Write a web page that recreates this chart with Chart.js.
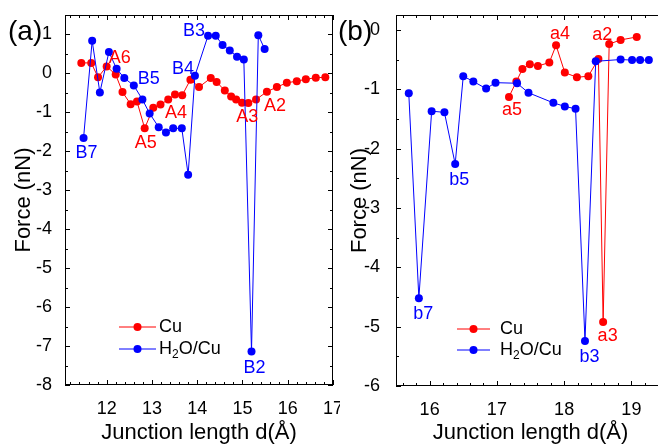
<!DOCTYPE html>
<html>
<head>
<meta charset="utf-8">
<script src="https://cdn.jsdelivr.net/npm/chart.js@4.4.1/dist/chart.umd.min.js"></script>
<style>
  html, body { margin: 0; padding: 0; background: #fff; }
  #wrap { position: relative; width: 658px; height: 446px; overflow: hidden; background: #fff; }
  canvas { position: absolute; top: 0; }
  #chartA { left: 0; }
  #chartB { left: 330px; }
</style>
</head>
<body>
<div id="wrap">
  <canvas id="chartA" width="340" height="446"></canvas>
  <canvas id="chartB" width="342" height="446"></canvas>
</div>
<script>
const FONT = "'Liberation Sans', Arial, sans-serif"
const RED = '#ff0000'
const BLUE = '#0000ff'

// panel (a): junction length (Å) vs force (nN)
const cuLenA = [11.44, 11.66, 11.81, 12.00, 12.20, 12.35, 12.53, 12.67, 12.84, 13.03, 13.19, 13.36, 13.51, 13.67, 13.85, 14.04,
    14.30, 14.43, 14.61, 14.75, 14.86, 14.99, 15.13, 15.30, 15.54, 15.76, 15.98, 16.20, 16.40, 16.62, 16.83]
const cuForceA = [0.27, 0.27, -0.10, 0.18, -0.03, -0.48, -0.79, -0.72, -1.41, -0.88, -0.80, -0.67, -0.54, -0.56, -0.16, -0.35,
    -0.12, -0.22, -0.44, -0.59, -0.67, -0.75, -0.76, -0.67, -0.47, -0.35, -0.24, -0.20, -0.15, -0.11, -0.10]
const h2oLenA = [11.49, 11.68, 11.85, 12.05, 12.22, 12.39, 12.60, 12.79, 12.95, 13.15, 13.31, 13.47, 13.66, 13.80, 13.95, 14.24,
    14.41, 14.56, 14.72, 14.88, 15.03, 15.20, 15.35, 15.49]
const h2oForceA = [-1.66, 0.84, -0.49, 0.55, 0.12, -0.12, -0.31, -0.67, -1.03, -1.38, -1.52, -1.41, -1.41, -2.60, -0.06, 0.97,
    0.97, 0.73, 0.59, 0.43, 0.36, -7.14, 0.98, 0.63]

// panel (b)
const cuLenB = [17.18, 17.29, 17.38, 17.49, 17.61, 17.78, 17.88, 18.01, 18.19, 18.36, 18.51, 18.58, 18.67, 18.84, 19.08]
const cuForceB = [-1.13, -0.87, -0.66, -0.58, -0.61, -0.55, -0.26, -0.72, -0.80, -0.78, -0.49, -4.92, -0.24, -0.17, -0.12]
const h2oLenB = [15.69, 15.84, 16.03, 16.22, 16.38, 16.50, 16.65, 16.84, 16.98, 17.30, 17.47, 17.84, 18.01, 18.17, 18.31, 18.47,
    18.84, 19.01, 19.13, 19.26]
const h2oForceB = [-1.07, -4.52, -1.37, -1.39, -2.26, -0.78, -0.87, -0.99, -0.89, -0.90, -1.06, -1.23, -1.29, -1.33, -5.24, -0.53,
    -0.50, -0.51, -0.51, -0.51]

// tick labels
const xTicksA = [12, 13, 14, 15, 16, 17]
const yTicksA = [-8, -7, -6, -5, -4, -3, -2, -1, 0, 1]
const xTicksB = [16, 17, 18, 19]
const yTicksB = [-6, -5, -4, -3, -2, -1, 0]

const seriesNames = ['Cu', 'H₂O/Cu']

// point tags: set 0 = Cu, set 1 = H2O/Cu, idx = point index
const tagsA = [
    { text: 'B7', set: 1, idx: 0, dx: 3, dy: 15 },
    { text: 'A6', set: 0, idx: 3, dx: 13, dy: -8 },
    { text: 'B5', set: 1, idx: 6, dx: 15, dy: -6 },
    { text: 'A5', set: 0, idx: 8, dx: 1, dy: 14.5 },
    { text: 'A4', set: 0, idx: 12, dx: 1, dy: 19 },
    { text: 'B4', set: 1, idx: 14, dx: -12, dy: -7 },
    { text: 'B3', set: 1, idx: 15, dx: -14, dy: -4.5 },
    { text: 'A3', set: 0, idx: 22, dx: -1, dy: 14.5 },
    { text: 'A2', set: 0, idx: 24, dx: 8, dy: 14 },
    { text: 'B2', set: 1, idx: 21, dx: 3, dy: 17 }
]
const tagsB = [
    { text: 'a5', set: 0, idx: 0, dx: 3, dy: 13 },
    { text: 'a4', set: 0, idx: 6, dx: 4, dy: -11 },
    { text: 'a2', set: 0, idx: 12, dx: -7, dy: -9 },
    { text: 'a3', set: 0, idx: 11, dx: 4.5, dy: 14.3 },
    { text: 'b5', set: 1, idx: 4, dx: 4, dy: 15.7 },
    { text: 'b7', set: 1, idx: 1, dx: 4.5, dy: 16 },
    { text: 'b3', set: 1, idx: 14, dx: 4.5, dy: 15.7 }
]


function line(ctx, x1, y1, x2, y2) {
    ctx.beginPath()
    ctx.moveTo(x1, y1)
    ctx.lineTo(x2, y2)
    ctx.stroke()
}

// box round the plot with inward ticks on all four sides
const frameTicks = {
    id: 'frameTicks',
    afterDraw(chart, args, o) {
        const { ctx, chartArea: a, scales: { x, y } } = chart
        ctx.save()
        ctx.strokeStyle = '#000'
        ctx.lineWidth = 1
        ctx.strokeRect(Math.round(a.left) + 0.5, Math.round(a.top) + 0.5,
            Math.round(a.right - a.left) - 1, Math.round(a.bottom - a.top) - 1)

        const ticksX = (step, len) => {
            for (let k = Math.ceil(x.min / step - 1e-6); k * step <= x.max + 1e-6; k++) {
                const px = Math.round(x.getPixelForValue(k * step)) + 0.5
                line(ctx, px, a.bottom, px, a.bottom - len)
                line(ctx, px, a.top, px, a.top + len)
            }
        }
        const ticksY = (step, len) => {
            for (let k = Math.ceil(y.min / step - 1e-6); k * step <= y.max + 1e-6; k++) {
                const py = Math.round(y.getPixelForValue(k * step)) + 0.5
                line(ctx, a.left, py, a.left + len, py)
                line(ctx, a.right, py, a.right - len, py)
            }
        }
        ticksX(o.minorX, 3)
        ticksX(1, 5)
        ticksY(0.5, 3)
        ticksY(1, 5)
        ctx.restore()
    }
}

const panelLabel = {
    id: 'panelLabel',
    afterDraw(chart, args, o) {
        const ctx = chart.ctx
        ctx.save()
        ctx.font = '28px ' + FONT
        ctx.fillStyle = '#000'
        ctx.textBaseline = 'alphabetic'
        ctx.fillText(o.text, o.x, o.y)
        ctx.restore()
    }
}

// draws text, turning subscript digits into small lowered digits
function drawRichText(ctx, text, x, y, size) {
    let cx = x
    for (const ch of text) {
        const code = ch.charCodeAt(0)
        if (code >= 0x2080 && code <= 0x2089) {
            ctx.font = Math.round(size * 0.68) + 'px ' + FONT
            const s = String(code - 0x2080)
            ctx.fillText(s, cx, y + size * 0.3)
            cx += ctx.measureText(s).width
        } else {
            ctx.font = size + 'px ' + FONT
            ctx.fillText(ch, cx, y)
            cx += ctx.measureText(ch).width
        }
    }
}

const refLegend = {
    id: 'refLegend',
    afterDraw(chart, args, o) {
        const ctx = chart.ctx
        ctx.save()
        chart.data.datasets.forEach((ds, i) => {
            const y = o.y + i * o.gap
            ctx.strokeStyle = ds.borderColor
            ctx.lineWidth = 1
            line(ctx, o.x, y, o.x + o.len, y)
            ctx.fillStyle = ds.borderColor
            ctx.beginPath()
            ctx.arc(o.x + o.len / 2, y, 4, 0, Math.PI * 2)
            ctx.fill()
            ctx.fillStyle = '#000'
            ctx.textBaseline = 'middle'
            drawRichText(ctx, ds.label, o.x + o.len + o.textGap, y, 18)
        })
        ctx.restore()
    }
}

const pointTags = {
    id: 'pointTags',
    afterDraw(chart, args, o) {
        const ctx = chart.ctx
        ctx.save()
        ctx.font = '18px ' + FONT
        ctx.textAlign = 'center'
        ctx.textBaseline = 'middle'
        o.items.forEach(t => {
            const el = chart.getDatasetMeta(t.set).data[t.idx]
            ctx.fillStyle = chart.data.datasets[t.set].borderColor
            ctx.fillText(t.text, el.x + t.dx, el.y + t.dy)
        })
        ctx.restore()
    }
}


function toPoints(xs, ys) {
    return xs.map((x, i) => ({ x: x, y: ys[i] }))
}

function makeChart(id, c) {
    return new Chart(document.getElementById(id), {
        type: 'line',
        data: {
            datasets: [
                { label: seriesNames[0], data: toPoints(c.cuLen, c.cuForce), borderColor: RED, pointBackgroundColor: RED, order: 2 },
                { label: seriesNames[1], data: toPoints(c.h2oLen, c.h2oForce), borderColor: BLUE, pointBackgroundColor: BLUE, order: 1 }
            ]
        },
        options: {
            responsive: false,
            animation: false,
            events: [],
            layout: { padding: { top: 15, right: c.padRight, left: 0, bottom: 0 } },
            elements: {
                line: { borderWidth: 1, tension: 0 },
                point: { radius: 4, hoverRadius: 4, borderWidth: 0 }
            },
            scales: {
                x: {
                    type: 'linear',
                    min: c.xMin,
                    max: c.xMax,
                    afterBuildTicks: s => { s.ticks = c.xTicks.map(v => ({ value: v })) },
                    afterFit: s => { s.height = c.xHeight; s.paddingLeft = 0; s.paddingRight = 0 },
                    grid: { display: false },
                    border: { display: false },
                    ticks: { color: '#000', padding: 5, maxRotation: 0, font: { family: FONT, size: 18 } },
                    title: { display: true, text: 'Junction length d(Å)', color: '#000', padding: 0, font: { family: FONT, size: 22 } }
                },
                y: {
                    min: c.yMin,
                    max: c.yMax,
                    afterBuildTicks: s => { s.ticks = c.yTicks.map(v => ({ value: v })) },
                    afterFit: s => { s.width = c.yWidth; s.paddingTop = 0; s.paddingBottom = 0 },
                    grid: { display: false },
                    border: { display: false },
                    ticks: { color: '#000', padding: c.yPad, font: { family: FONT, size: 18 } },
                    title: { display: true, text: 'Force (nN)', color: '#000', padding: { top: c.yTitlePad, bottom: 0 }, font: { family: FONT, size: 22 } }
                }
            },
            plugins: {
                legend: { display: false },
                tooltip: { enabled: false },
                frameTicks: { minorX: 0.2 },
                panelLabel: c.panel,
                refLegend: c.legend,
                pointTags: { items: c.tags }
            }
        },
        plugins: [frameTicks, panelLabel, refLegend, pointTags]
    })
}

makeChart('chartA', {
    cuLen: cuLenA, cuForce: cuForceA, h2oLen: h2oLenA, h2oForce: h2oForceA,
    xMin: 11.08, xMax: 17, yMin: -8, yMax: 1.5,
    xTicks: xTicksA, yTicks: yTicksA,
    padRight: 7, xHeight: 61, yWidth: 65, yPad: 5, yTitlePad: 11,
    panel: { text: '(a)', x: 8, y: 40 },
    legend: { x: 119, y: 327, gap: 22, len: 37, textGap: 3 },
    tags: tagsA
})

makeChart('chartB', {
    cuLen: cuLenB, cuForce: cuForceB, h2oLen: h2oLenB, h2oForce: h2oForceB,
    xMin: 15.5, xMax: 19.5, yMin: -6, yMax: 0.25,
    xTicks: xTicksB, yTicks: yTicksB,
    padRight: 7, xHeight: 60, yWidth: 66, yPad: 8, yTitlePad: 17,
    panel: { text: '(b)', x: 8, y: 40 },
    legend: { x: 127, y: 329, gap: 21, len: 33, textGap: 10 },
    tags: tagsB
})
</script>
</body>
</html>
